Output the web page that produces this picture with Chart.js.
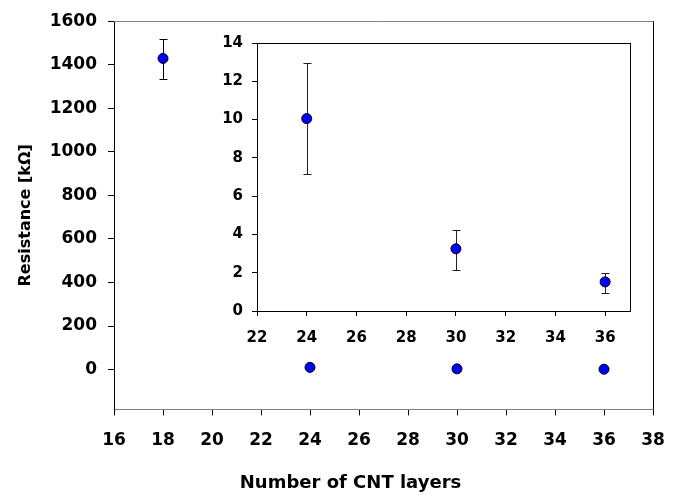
<!DOCTYPE html>
<html>
<head>
<meta charset="utf-8">
<script src="https://cdn.jsdelivr.net/npm/chart.js@4"></script>
<style>
  body { margin: 0; background: #fff; }
  #wrap { position: relative; width: 680px; height: 495px; }
  #mainChart { position: absolute; left: 0; top: 0; }
  #insetChart { position: absolute; left: 200px; top: 25px; }
</style>
</head>
<body>
<div id="wrap">
  <canvas id="mainChart" width="680" height="495"></canvas>
  <canvas id="insetChart" width="450" height="335"></canvas>
</div>
<script>
// values
var layers = [18, 24, 30, 36];
var resistance = [1429, 10.05, 3.25, 1.52];
var resistanceHigh = [1519, 12.93, 4.25, 2.0];
var resistanceLow = [1334, 7.14, 2.15, 0.95];

var mainXRange = [16, 38];
var mainXTickValues = [16, 18, 20, 22, 24, 26, 28, 30, 32, 34, 36, 38];
var mainYRange = [-183, 1600];
var mainYTickValues = [0, 200, 400, 600, 800, 1000, 1200, 1400, 1600];
var insetXRange = [22, 37];
var insetXTickValues = [22, 24, 26, 28, 30, 32, 34, 36];
var insetYRange = [0, 14];
var insetYTickValues = [0, 2, 4, 6, 8, 10, 12, 14];

var FONT = "'DejaVu Sans', sans-serif";

function points(xs, ys) {
    return xs.map(function (x, i) { return { x: x, y: ys[i] }; });
}

function fixedTicks(values) {
    return function (scale) {
        scale.ticks = values.map(function (v) { return { value: v }; });
    };
}

function plainLabel(value) {
    return String(value);
}

// error bars, drawn under the markers
var errorBars = {
    id: 'errorBars',
    beforeDatasetsDraw: function (chart, args, opts) {
        var ctx = chart.ctx;
        var xs = chart.scales.x, ys = chart.scales.y;
        ctx.save();
        ctx.strokeStyle = opts.color;
        ctx.lineWidth = 1;
        opts.x.forEach(function (v, i) {
            var px = Math.round(xs.getPixelForValue(v)) + 0.5;
            var top = Math.round(ys.getPixelForValue(opts.high[i])) + 0.5;
            var bot = Math.round(ys.getPixelForValue(opts.low[i])) + 0.5;
            ctx.beginPath();
            ctx.moveTo(px, top); ctx.lineTo(px, bot);
            ctx.moveTo(px - opts.cap, top); ctx.lineTo(px + opts.cap, top);
            ctx.moveTo(px - opts.cap, bot); ctx.lineTo(px + opts.cap, bot);
            ctx.stroke();
        });
        ctx.restore();
    }
};

// top and right edges of the plot box
var frame = {
    id: 'frame',
    afterDraw: function (chart, args, opts) {
        var a = chart.chartArea, ctx = chart.ctx;
        ctx.save();
        ctx.lineWidth = 1;
        ctx.strokeStyle = opts.top;
        ctx.beginPath();
        ctx.moveTo(a.left, Math.round(a.top) + 0.5); ctx.lineTo(a.right, Math.round(a.top) + 0.5);
        ctx.stroke();
        ctx.strokeStyle = opts.right;
        ctx.beginPath();
        ctx.moveTo(Math.round(a.right) + 0.5, a.top); ctx.lineTo(Math.round(a.right) + 0.5, a.bottom);
        ctx.stroke();
        ctx.restore();
    }
};

function markerSet(xs, ys) {
    return {
        data: points(xs, ys),
        showLine: false,
        pointRadius: 5,
        pointBorderWidth: 1,
        pointBorderColor: '#000',
        pointBackgroundColor: '#0000ff'
    };
}

new Chart(document.getElementById('mainChart'), {
    type: 'scatter',
    data: { datasets: [markerSet(layers, resistance)] },
    options: {
        responsive: false,
        animation: false,
        layout: { padding: { left: 48, right: 27, top: 20, bottom: 1 } },
        plugins: {
            legend: { display: false },
            tooltip: { enabled: false },
            title: {
                display: true,
                position: 'bottom',
                text: 'Number of CNT layers',
                color: '#000',
                font: { family: FONT, size: 18, weight: 'bold' },
                padding: { top: 0, bottom: 0 }
            },
            errorBars: { x: layers, high: resistanceHigh, low: resistanceLow, cap: 4, color: '#000' },
            frame: { top: '#808080', right: '#000' }
        },
        scales: {
            x: {
                type: 'linear',
                min: mainXRange[0], max: mainXRange[1],
                afterFit: function (s) { s.height = 63; },
                afterBuildTicks: fixedTicks(mainXTickValues),
                ticks: {
                    autoSkip: false, maxRotation: 0, callback: plainLabel,
                    color: '#000', padding: 15,
                    font: { family: FONT, size: 17, weight: 'bold' }
                },
                grid: { drawOnChartArea: false, tickLength: 6, tickColor: '#000' },
                border: { color: '#808080' }
            },
            y: {
                min: mainYRange[0], max: mainYRange[1],
                afterFit: function (s) { s.width = 66; },
                afterBuildTicks: fixedTicks(mainYTickValues),
                ticks: {
                    callback: plainLabel,
                    color: '#000', padding: 11,
                    font: { family: FONT, size: 17, weight: 'bold' }
                },
                grid: { drawOnChartArea: false, tickLength: 6, tickColor: '#000' },
                border: { color: '#000' },
                title: {
                    display: true,
                    text: 'Resistance [kΩ]',
                    color: '#000',
                    font: { family: FONT, size: 16, weight: 'bold' },
                    padding: { top: -32, bottom: 0 }
                }
            }
        }
    },
    plugins: [errorBars, frame]
});

var insetX = layers.slice(1);
new Chart(document.getElementById('insetChart'), {
    type: 'scatter',
    data: { datasets: [markerSet(insetX, resistance.slice(1))] },
    options: {
        responsive: false,
        animation: false,
        layout: { padding: { left: 0, right: 20, top: 7, bottom: 0 } },
        plugins: {
            legend: { display: false },
            tooltip: { enabled: false },
            errorBars: { x: insetX, high: resistanceHigh.slice(1), low: resistanceLow.slice(1), cap: 4, color: '#222' },
            frame: { top: '#000', right: '#000' }
        },
        scales: {
            x: {
                type: 'linear',
                min: insetXRange[0], max: insetXRange[1],
                afterFit: function (s) { s.height = 49; },
                afterBuildTicks: fixedTicks(insetXTickValues),
                ticks: {
                    autoSkip: false, maxRotation: 0, callback: plainLabel,
                    color: '#000', padding: 13,
                    font: { family: FONT, size: 15, weight: 'bold' }
                },
                grid: { drawOnChartArea: false, tickLength: 5, tickColor: '#000' },
                border: { color: '#000' }
            },
            y: {
                min: insetYRange[0], max: insetYRange[1],
                afterFit: function (s) { s.width = 57; },
                afterBuildTicks: fixedTicks(insetYTickValues),
                ticks: {
                    callback: plainLabel,
                    color: '#000', padding: 9,
                    font: { family: FONT, size: 15, weight: 'bold' }
                },
                grid: { drawOnChartArea: false, tickLength: 5, tickColor: '#000' },
                border: { color: '#000' }
            }
        }
    },
    plugins: [errorBars, frame]
});
</script>
</body>
</html>
